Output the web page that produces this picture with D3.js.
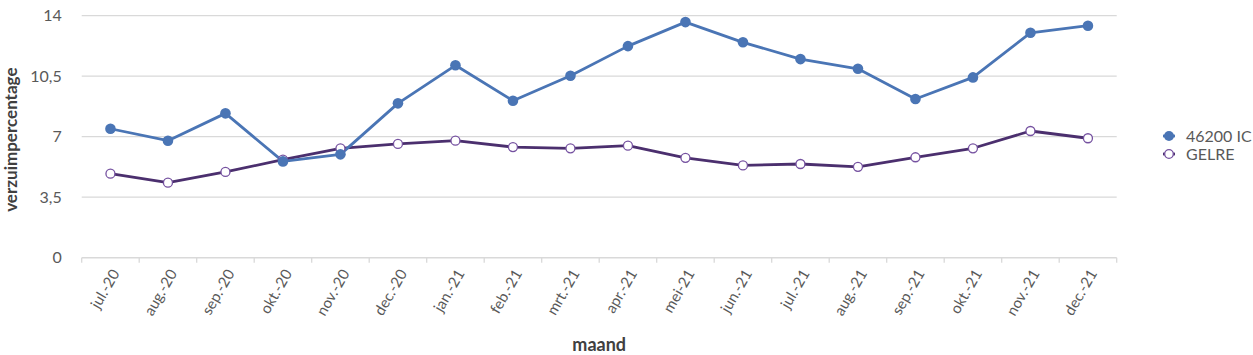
<!DOCTYPE html>
<html><head><meta charset="utf-8">
<script src="https://cdn.jsdelivr.net/npm/d3@7"></script>
<style>body{margin:0;background:#fff}svg{display:block}text{font-family:Lato,"Open Sans",sans-serif}</style>
</head><body><svg id="c" width="1253" height="355"></svg>
<script>
const categories = ["jul.-20","aug.-20","sep.-20","okt.-20","nov.-20","dec.-20","jan.-21","feb.-21","mrt.-21","apr.-21","mei-21","jun.-21","jul.-21","aug.-21","sep.-21","okt.-21","nov.-21","dec.-21"];
const seriesIC = [7.46,6.77,8.35,5.57,5.98,8.93,11.13,9.08,10.53,12.24,13.63,12.46,11.49,10.93,9.18,10.43,13.01,13.42];
const seriesGELRE = [4.86,4.34,4.96,5.67,6.33,6.58,6.77,6.40,6.33,6.48,5.78,5.34,5.42,5.26,5.81,6.33,7.33,6.91];
const yTicks = [0,3.5,7,10.5,14];
const yTickLabels = ["0","3,5","7","10,5","14"];
const seriesNames = ["46200 IC","GELRE"];

const svg = d3.select("#c");
const L = 81.7, R = 1116.7, T = 15.7, B = 257.7;
const x = d3.scaleBand().domain(categories).range([L, R]);
const y = d3.scaleLinear().domain([0, 14]).range([B, T]);

// gridlines
svg.append("g").selectAll("line").data(yTicks.filter(d => d > 0)).join("line")
  .attr("x1", L).attr("x2", R).attr("y1", d => y(d)).attr("y2", d => y(d))
  .attr("stroke", "#d9d9d9").attr("stroke-width", 1.3);

// y axis labels
const yAxis = d3.axisLeft(y).tickValues(yTicks).tickFormat((d, i) => yTickLabels[i]).tickSize(0).tickPadding(20);
const gy = svg.append("g").attr("transform", `translate(${L},0)`).call(yAxis);
gy.select(".domain").remove();
gy.selectAll("text").attr("font-size", 16).attr("fill", "#595959").attr("font-family", "Lato");

// x axis
const xAxis = d3.axisBottom(x).tickSize(0).tickPadding(0);
const gx = svg.append("g").attr("transform", `translate(0,${B})`).call(xAxis);
gx.select(".domain").attr("stroke", "#d9d9d9").attr("stroke-width", 1.5).attr("d", `M${L},0H${R}`);
gx.selectAll(".tick text").attr("font-size", 15).attr("fill", "#595959").attr("font-family", "Lato")
  .attr("text-anchor", "end").attr("dy", "0.35em")
  .attr("transform", "translate(5,13) rotate(-60)");
// tick marks at band boundaries
const bounds = categories.map(c => x(c)).concat([R]);
svg.append("g").selectAll("line").data(bounds).join("line")
  .attr("x1", d => d).attr("x2", d => d).attr("y1", B).attr("y2", B + 5)
  .attr("stroke", "#d9d9d9").attr("stroke-width", 1.3);

const cx = c => x(c) + x.bandwidth() / 2;
const line = d3.line().x(d => cx(d.c)).y(d => y(d.v));

const dataGELRE = categories.map((c, i) => ({c, v: seriesGELRE[i]}));
const dataIC = categories.map((c, i) => ({c, v: seriesIC[i]}));

svg.append("path").datum(dataGELRE).attr("d", line).attr("fill", "none").attr("stroke", "#4b2f6e").attr("stroke-width", 2.8).attr("stroke-linejoin", "round");
svg.append("path").datum(dataIC).attr("d", line).attr("fill", "none").attr("stroke", "#4a75b5").attr("stroke-width", 2.8).attr("stroke-linejoin", "round");

svg.append("g").selectAll("circle").data(dataGELRE).join("circle")
  .attr("cx", d => cx(d.c)).attr("cy", d => y(d.v)).attr("r", 4.5)
  .attr("fill", "#fff").attr("stroke", "#7551a0").attr("stroke-width", 1.3);
svg.append("g").selectAll("circle").data(dataIC).join("circle")
  .attr("cx", d => cx(d.c)).attr("cy", d => y(d.v)).attr("r", 5.3)
  .attr("fill", "#4a75b5");

// axis titles
svg.append("text").attr("transform", `translate(17,${(T + B) / 2 + 3}) rotate(-90)`)
  .attr("text-anchor", "middle").attr("font-size", 17).attr("font-weight", "bold").attr("fill", "#404040")
  .text("verzuimpercentage");
svg.append("text").attr("x", (L + R) / 2).attr("y", 351)
  .attr("text-anchor", "middle").attr("font-size", 18).attr("font-weight", "bold").attr("fill", "#404040")
  .text("maand");

// legend
const lg = svg.append("g");
const ly = [136, 154];
lg.append("line").attr("x1", 1163).attr("x2", 1175).attr("y1", ly[0]).attr("y2", ly[0]).attr("stroke", "#4a75b5").attr("stroke-width", 2.8);
lg.append("circle").attr("cx", 1169).attr("cy", ly[0]).attr("r", 5).attr("fill", "#4a75b5");
lg.append("line").attr("x1", 1163).attr("x2", 1175).attr("y1", ly[1]).attr("y2", ly[1]).attr("stroke", "#4b2f6e").attr("stroke-width", 2.8);
lg.append("circle").attr("cx", 1169).attr("cy", ly[1]).attr("r", 4.3).attr("fill", "#fff").attr("stroke", "#7551a0").attr("stroke-width", 1.3);
lg.selectAll("text").data(seriesNames).join("text")
  .attr("x", 1186).attr("y", (d, i) => ly[i]).attr("dy", "0.35em")
  .attr("font-size", 16).attr("fill", "#595959").text(d => d);
</script></body></html>
